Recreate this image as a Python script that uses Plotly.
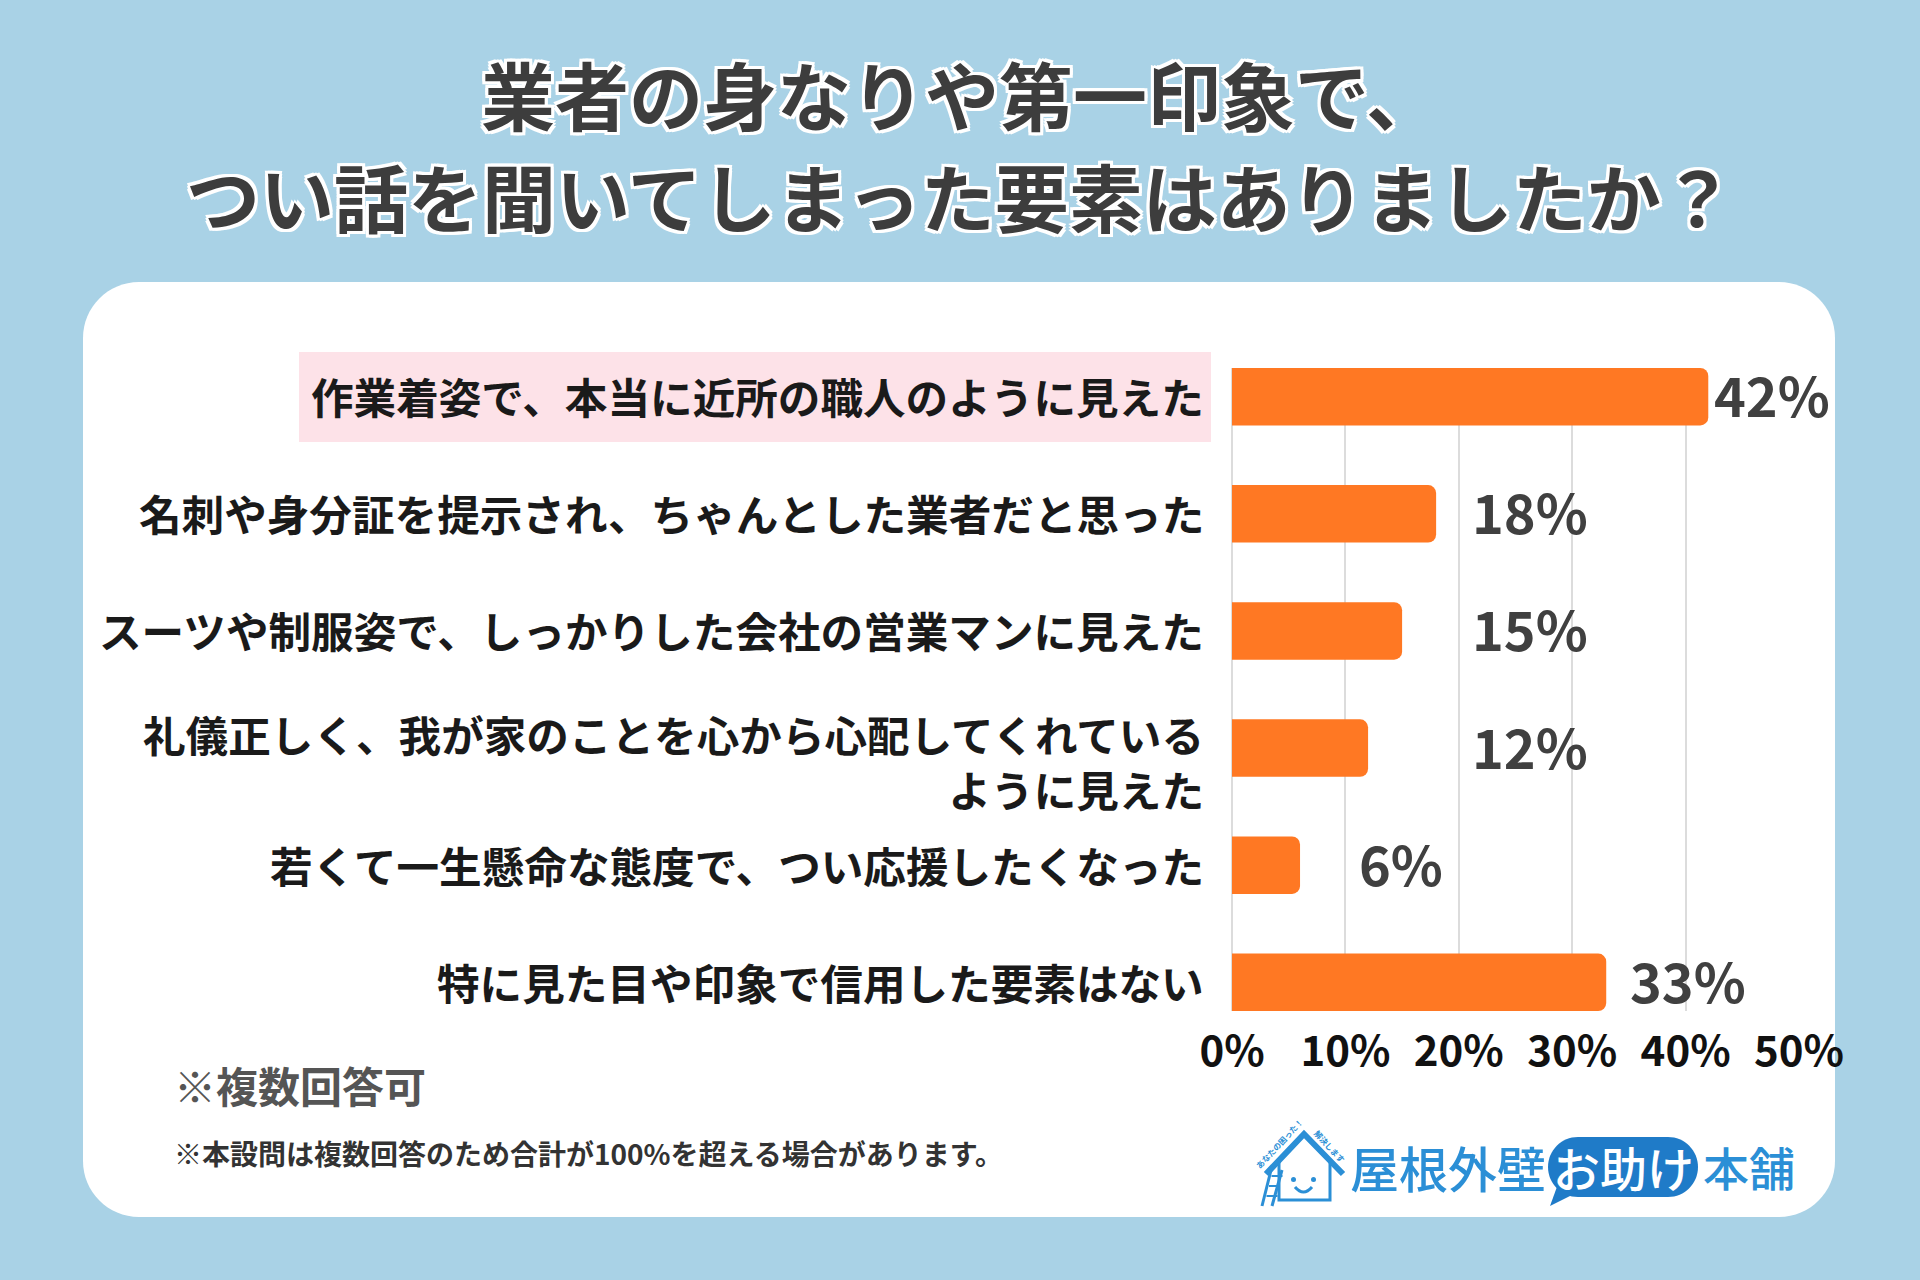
import plotly.graph_objects as go

# ---------------- data ----------------
categories = [
    "作業着姿で、本当に近所の職人のように見えた",
    "名刺や身分証を提示され、ちゃんとした業者だと思った",
    "スーツや制服姿で、しっかりした会社の営業マンに見えた",
    "礼儀正しく、我が家のことを心から心配してくれている<br>ように見えた",
    "若くて一生懸命な態度で、つい応援したくなった",
    "特に見た目や印象で信用した要素はない",
]
values = [42, 18, 15, 12, 6, 33]
value_labels = ["42%", "18%", "15%", "12%", "6%", "33%"]
label_x = [42.4, 21.1, 21.1, 21.1, 11.1, 35.0]   # where each value label starts (axis units)
tick_vals = [0, 10, 20, 30, 40, 50]
tick_text = ["0%", "10%", "20%", "30%", "40%", "50%"]

title_lines = ["業者の身なりや第一印象で、", "つい話を聞いてしまった要素はありましたか？"]
note_main = "※複数回答可"
note_small = "※本設問は複数回答のため合計が100%を超える場合があります。"

# ---------------- geometry helpers ----------------
W, H = 1920, 1280
L, R, T, B = 1232, 1799, 368, 1011
FONT = "Noto Sans CJK JP"

def px(x):
    return (x - L) / (R - L)

def py(y):
    return (B - y) / (B - T)

def rrect(x0, y0, x1, y1, r):
    k = 0.5523 * r
    pts = [
        f"M {px(x0 + r)},{py(y0)}",
        f"L {px(x1 - r)},{py(y0)}",
        f"C {px(x1 - r + k)},{py(y0)} {px(x1)},{py(y0 + r - k)} {px(x1)},{py(y0 + r)}",
        f"L {px(x1)},{py(y1 - r)}",
        f"C {px(x1)},{py(y1 - r + k)} {px(x1 - r + k)},{py(y1)} {px(x1 - r)},{py(y1)}",
        f"L {px(x0 + r)},{py(y1)}",
        f"C {px(x0 + r - k)},{py(y1)} {px(x0)},{py(y1 - r + k)} {px(x0)},{py(y1 - r)}",
        f"L {px(x0)},{py(y0 + r)}",
        f"C {px(x0)},{py(y0 + r - k)} {px(x0 + r - k)},{py(y0)} {px(x0 + r)},{py(y0)}",
        "Z",
    ]
    return " ".join(pts)

def poly(points, close=False):
    s = " ".join(("M" if i == 0 else "L") + f" {px(x)},{py(y)}" for i, (x, y) in enumerate(points))
    return s + (" Z" if close else "")

fig = go.Figure()

fig.add_trace(go.Bar(
    y=categories,
    x=values,
    orientation="h",
    marker=dict(color="#FF7823", line=dict(width=0)),
    hoverinfo="skip",
))

shapes = []
# white panel
shapes.append(dict(type="path", xref="paper", yref="paper", path=rrect(83, 282, 1835, 1217, 56),
                   fillcolor="#FFFFFF", line=dict(width=0), layer="below"))
# pink highlight behind first label
shapes.append(dict(type="rect", xref="paper", yref="paper",
                   x0=px(299), x1=px(1211), y0=py(352), y1=py(442),
                   fillcolor="#FDE2E8", line=dict(width=0), layer="below"))

# logo: house icon
blue = "#2B8FD6"
dark_blue = "#1F7BC8"
LY = -6  # vertical nudge of logo
shapes.append(dict(type="path", xref="paper", yref="paper",
                   path=poly([(1266, 1180 + LY), (1304, 1140 + LY), (1343, 1180 + LY)]),
                   line=dict(color=blue, width=6)))
shapes.append(dict(type="path", xref="paper", yref="paper",
                   path=poly([(1279, 1168 + LY), (1279, 1206 + LY), (1330, 1206 + LY), (1330, 1168 + LY)]),
                   line=dict(color=blue, width=3)))
shapes.append(dict(type="circle", xref="paper", yref="paper",
                   x0=px(1291), x1=px(1296), y0=py(1183 + LY), y1=py(1188 + LY),
                   fillcolor=blue, line=dict(width=0)))
shapes.append(dict(type="circle", xref="paper", yref="paper",
                   x0=px(1311), x1=px(1316), y0=py(1183 + LY), y1=py(1188 + LY),
                   fillcolor=blue, line=dict(width=0)))
shapes.append(dict(type="path", xref="paper", yref="paper",
                   path=f"M {px(1295)},{py(1193 + LY)} Q {px(1303.5)},{py(1203 + LY)} {px(1312)},{py(1193 + LY)}",
                   line=dict(color=blue, width=3)))
# ladder
shapes.append(dict(type="path", xref="paper", yref="paper",
                   path=poly([(1272, 1172 + LY), (1262, 1212 + LY)]), line=dict(color=blue, width=3)))
shapes.append(dict(type="path", xref="paper", yref="paper",
                   path=poly([(1282, 1176 + LY), (1272, 1212 + LY)]), line=dict(color=blue, width=3)))
for yy in (1182, 1192, 1202):
    shapes.append(dict(type="path", xref="paper", yref="paper",
                       path=poly([(1267 + (1212 - yy) * 0.25 - 3, yy + LY), (1278 + (1212 - yy) * 0.25 - 3, yy + LY)]),
                       line=dict(color=blue, width=2)))
# speech-bubble pill behind お助け
shapes.append(dict(type="path", xref="paper", yref="paper", path=rrect(1548, 1137, 1698, 1197, 30),
                   fillcolor=dark_blue, line=dict(width=0)))
shapes.append(dict(type="path", xref="paper", yref="paper",
                   path=poly([(1558, 1184), (1550, 1206), (1578, 1192)], close=True),
                   fillcolor=dark_blue, line=dict(width=0)))

annotations = []
outline = ",".join(f"{dx}px {dy}px 0 #ffffff" for dx, dy in
                   [(-3, -3), (3, -3), (-3, 3), (3, 3), (0, 3), (0, -3), (3, 0), (-3, 0)])
for i, line in enumerate(title_lines):
    annotations.append(dict(
        text=line, xref="paper", yref="paper", x=px(960), y=py([92, 194][i]),
        xanchor="center", yanchor="middle", showarrow=False,
        font=dict(family=FONT, size=74, color="#3D3D3D", weight="bold", shadow=outline),
    ))

# category labels
for i, cat in enumerate(categories):
    annotations.append(dict(
        text=cat, xref="paper", yref="y", x=px(1205), y=cat,
        xanchor="right", yanchor="middle", align="right", showarrow=False,
        yshift=-13 if "<br>" in cat else 1, borderpad=0,
        font=dict(family=FONT, size=42.6, color="#1A1A1A", weight="bold"),
    ))

# value labels
for cat, lx, lab in zip(categories, label_x, value_labels):
    annotations.append(dict(
        text=lab, xref="x", yref="y", x=lx, y=cat,
        xanchor="left", yanchor="middle", showarrow=False, borderpad=0, yshift=3,
        font=dict(family=FONT, size=54, color="#404040", weight="bold"),
    ))

# notes
annotations.append(dict(text=note_main, xref="paper", yref="paper", x=px(172), y=py(1084),
                        xanchor="left", yanchor="middle", showarrow=False,
                        font=dict(family=FONT, size=42, color="#555555", weight="bold")))
annotations.append(dict(text=note_small, xref="paper", yref="paper", x=px(172), y=py(1153),
                        xanchor="left", yanchor="middle", showarrow=False,
                        font=dict(family=FONT, size=28, color="#333333", weight="bold")))

# logo text
annotations.append(dict(text="屋根外壁", xref="paper", yref="paper", x=px(1349), y=py(1166),
                        xanchor="left", yanchor="middle", showarrow=False, borderpad=0,
                        font=dict(family=FONT, size=49, color=blue, weight=500)))
annotations.append(dict(text="お助け", xref="paper", yref="paper", x=px(1623), y=py(1166),
                        xanchor="center", yanchor="middle", showarrow=False, borderpad=0,
                        font=dict(family=FONT, size=47, color="#FFFFFF", weight=500)))
annotations.append(dict(text="本舗", xref="paper", yref="paper", x=px(1702), y=py(1166),
                        xanchor="left", yanchor="middle", showarrow=False, borderpad=0,
                        font=dict(family=FONT, size=46, color=blue, weight=500)))
annotations.append(dict(text="あなたの困った！", xref="paper", yref="paper", x=px(1279), y=py(1143),
                        xanchor="center", yanchor="middle", showarrow=False, textangle=-47,
                        font=dict(family=FONT, size=8, color=blue, weight="bold")))
annotations.append(dict(text="解決します", xref="paper", yref="paper", x=px(1330), y=py(1146),
                        xanchor="center", yanchor="middle", showarrow=False, textangle=47,
                        font=dict(family=FONT, size=8, color=blue, weight="bold")))

fig.update_layout(
    width=W, height=H,
    margin=dict(l=L, r=W - R, t=T, b=H - B, pad=0),
    paper_bgcolor="#A9D2E6",
    plot_bgcolor="rgba(0,0,0,0)",
    showlegend=False,
    bargap=0.51,
    barcornerradius=8,
    shapes=shapes,
    annotations=annotations,
    xaxis=dict(
        range=[0, 50], tickvals=tick_vals, ticktext=tick_text,
        showgrid=True, gridcolor="#DCDCDC", gridwidth=1.5,
        zeroline=True, zerolinecolor="#DCDCDC", zerolinewidth=1.5,
        showline=False, ticks="outside", ticklen=4, tickcolor="rgba(0,0,0,0)",
        tickfont=dict(family=FONT, size=42, color="#111111", weight="bold"),
        fixedrange=True,
    ),
    yaxis=dict(
        type="category", categoryorder="array", categoryarray=categories,
        range=[5.245, -0.245], showticklabels=False, showgrid=False,
        zeroline=False, showline=False, ticks="",
    ),
)

fig.write_html("out.html", config={"displayModeBar": False},
               post_script="document.body.style.margin='0';document.body.style.background='#A9D2E6';")
